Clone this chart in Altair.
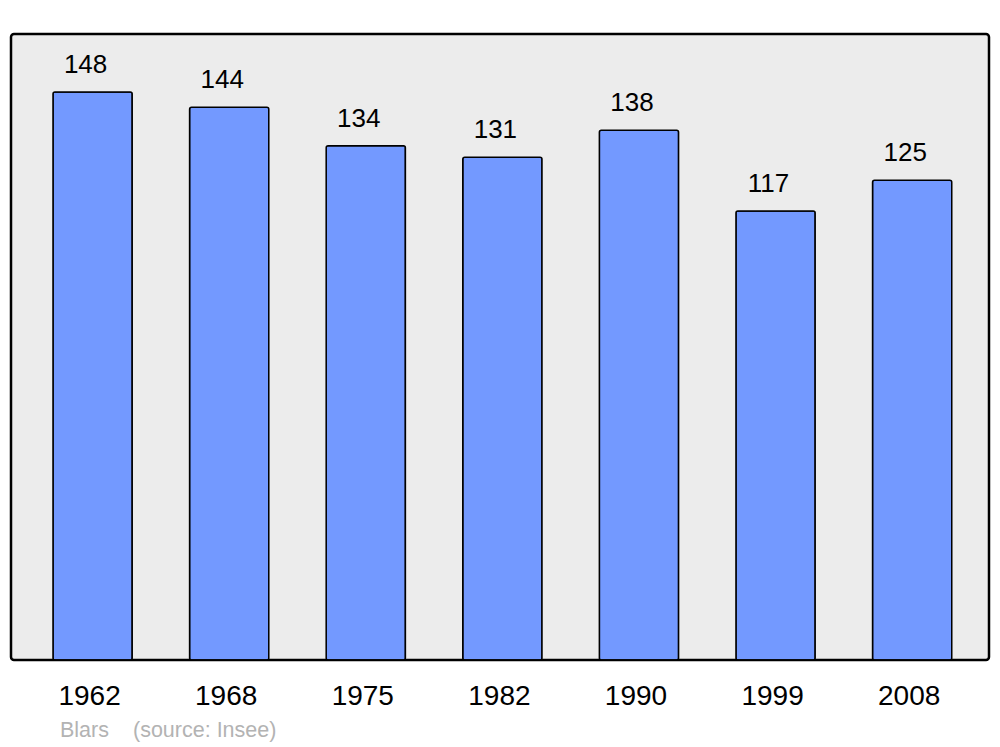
import altair as alt
import pandas as pd

years = ["1962", "1968", "1975", "1982", "1990", "1999", "2008"]
population = [148, 144, 134, 131, 138, 117, 125]
source_texts = ["Blars", "(source: Insee)"]
source_x = [49, 122]

df = pd.DataFrame({"year": years, "pop": population})
src = pd.DataFrame({"t": source_texts, "x": source_x})

FONT = "Liberation Sans"

xenc = alt.X("year:N", sort=years, title=None,
             scale=alt.Scale(paddingInner=0.42, paddingOuter=0.29, align=0.53),
             axis=alt.Axis(labelFontSize=28, labelFont=FONT, labelColor="black",
                           labelAngle=0, labelBaseline="alphabetic", labelPadding=44,
                           ticks=False, tickSize=0, domain=False, labelOffset=-3))
yenc = alt.Y("pop:Q", title=None, scale=alt.Scale(domain=[0, 163.1], nice=False),
             axis=None)

bars = alt.Chart(df).mark_bar(fill="#7399ff", stroke="black", strokeWidth=1.5,
                              cornerRadius=2).encode(x=xenc, y=yenc)

labels = alt.Chart(df).mark_text(font=FONT, fontSize=26, color="black",
                                 baseline="alphabetic", dy=-19, dx=-7).encode(
    x=alt.X("year:N", sort=years), y="pop:Q", text="pop:Q")

source = alt.Chart(src).mark_text(font=FONT, fontSize=21.5, color="#b3b3b3",
                                  align="left", baseline="alphabetic").encode(
    x=alt.X("x:Q", scale=None), y=alt.value(703), text="t:N")

chart = alt.layer(bars, labels, source).properties(
    width=978, height=626,
    autosize=alt.AutoSizeParams(type="none"),
    padding={"left": 3, "top": 26, "right": 3, "bottom": 86},
).configure(
    background="white",
    view=alt.ViewConfig(fill="#ececec", stroke="black", strokeWidth=2.5, cornerRadius=3),
)

chart.save("out.html", embed_options={"renderer": "svg", "actions": False})
